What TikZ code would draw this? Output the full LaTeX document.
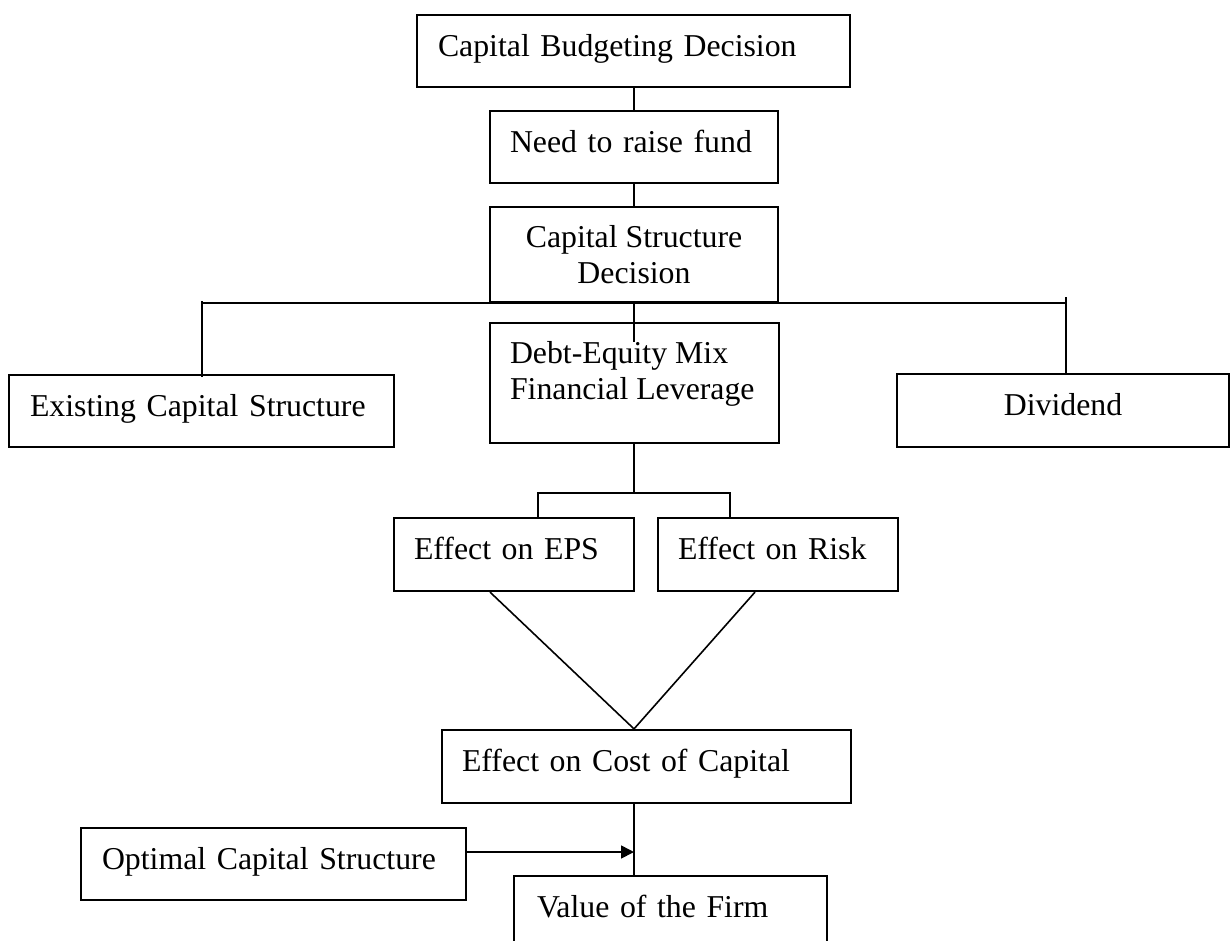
\documentclass[tikz,border=0pt]{standalone}
\usepackage{fontspec}
\setmainfont{Liberation Serif}
\usetikzlibrary{arrows.meta}
\tikzset{
    box/.style={draw, line width=2.2pt, inner xsep=20pt, inner ysep=0pt, minimum height=72pt, font=\fontsize{31.8}{36.5}\selectfont},
    lbox/.style={box, align=left, text height=22pt, text depth=12pt},
    link/.style={line width=1.6pt},
}
\begin{document}
\begin{tikzpicture}[x=1pt,y=-1pt]
    \useasboundingbox (0,0) rectangle (1230,940);
    \node (bud) at (633.5,51) [lbox, inner xsep=21pt, text width=391pt] {Capital Budgeting Decision};
    \node (need) at (634,147) [lbox, text width=248pt] {Need to raise fund};
    \node (csd) at (634,254.5) [box, minimum width=288pt, minimum height=95pt, align=center] {Capital Structure\\Decision};
    \node (exist) at (201.5,411) [lbox, inner xsep=21pt, text width=343pt] {Existing Capital Structure};
    \node (debt) at (634.5,383) [box, inner ysep=18pt] {\parbox[c][84pt][t]{249pt}{Debt-Equity Mix\\Financial Leverage}};
    \node (div) at (1063,410.5) [lbox, minimum height=73pt, text width=292pt, align=center] {Dividend};
    \node (eps) at (514,554.5) [lbox, minimum height=73pt, text width=200pt] {Effect on EPS};
    \node (risk) at (778,554.5) [lbox, minimum height=73pt, text width=200pt] {Effect on Risk};
    \node (cost) at (646.5,766.5) [lbox, minimum height=73pt, text width=369pt] {Effect on Cost of Capital};
    \node (opt) at (273.5,864) [lbox, inner xsep=21pt, text width=343pt] {Optimal Capital Structure};
    \node (val) at (670.5,912) [lbox, inner xsep=23pt, text width=267pt] {Value of the Firm};
    \coordinate (barL) at (202,303);
    \coordinate (barR) at (1066,303);
    \coordinate (fork) at (634,493);
    \draw[link] (need.north |- bud.south) -- (need.north);
    \draw[link] (need.south) -- (csd.north);
    \draw[link] (barL) -- (barR);
    \draw[link] ([yshift=2pt]barL) -- ([yshift=-3pt]barL |- exist.north);
    \draw[link] ([yshift=6pt]barR) -- (barR |- div.north);
    \draw[link] (csd.south) -- ([yshift=-20pt]csd.south |- debt.north);
    \draw[link] (fork |- debt.south) -- (fork);
    \draw[link] ([xshift=24pt]eps.north) |- (fork) -| ([xshift=-48pt]risk.north);
    \draw[link] ([xshift=-24pt]eps.south) -- ([xshift=-12.5pt]cost.north) -- ([xshift=-23pt]risk.south);
    \draw[link] ([xshift=-12.5pt]cost.south) -- ([xshift=-12.5pt]cost.south |- val.north);
    \draw[link, -{Triangle[length=13pt, width=13pt]}] ([yshift=12pt]opt.east) -- ([xshift=-12.5pt, yshift=12pt]cost.south |- opt.east);
\end{tikzpicture}
\end{document}
